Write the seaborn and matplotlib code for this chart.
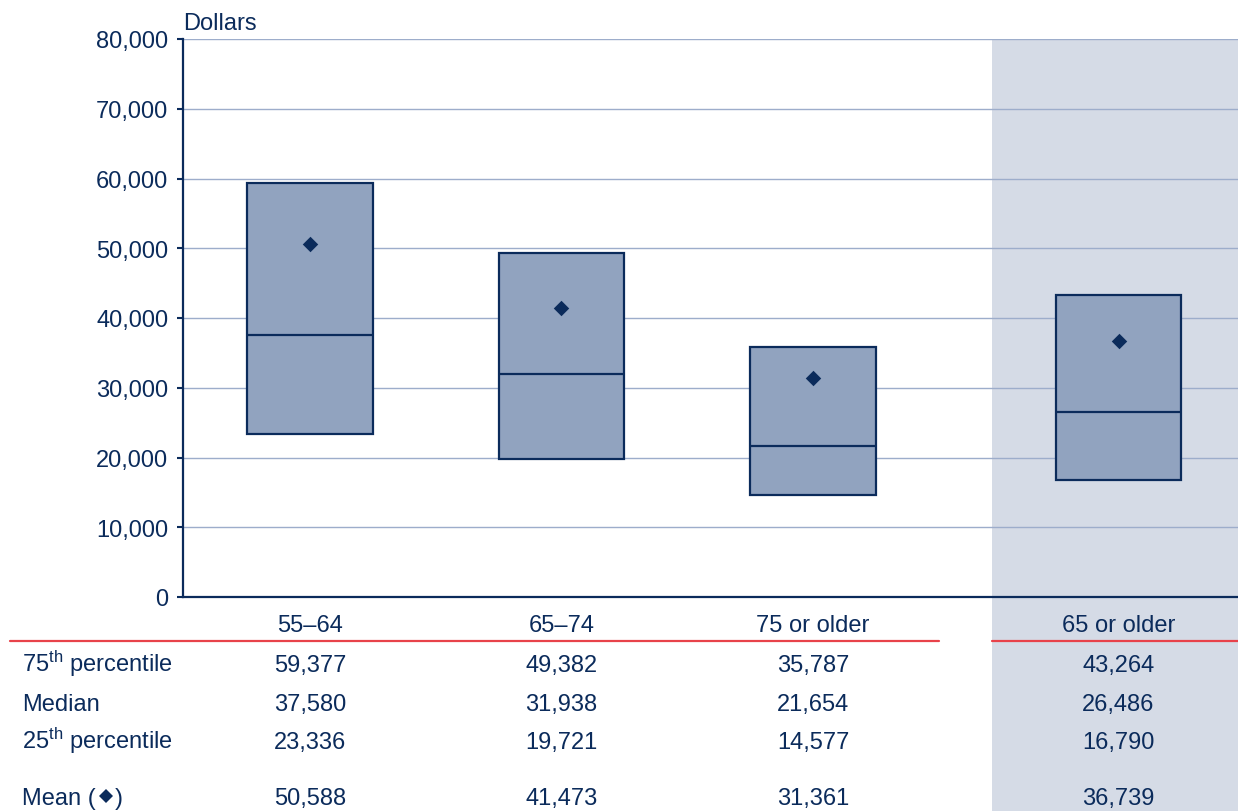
import matplotlib
matplotlib.use("Agg")
import matplotlib.pyplot as plt
from matplotlib.patches import Rectangle
from matplotlib.lines import Line2D
from matplotlib.transforms import blended_transform_factory
import seaborn as sns


groups = ["55\u201364", "65\u201374", "75 or older", "65 or older"]
p75 = [59377, 49382, 35787, 43264]
median = [37580, 31938, 21654, 26486]
p25 = [23336, 19721, 14577, 16790]
mean = [50588, 41473, 31361, 36739]

row_labels = ["75$^{\\mathrm{th}}$ percentile", "Median",
              "25$^{\\mathrm{th}}$ percentile", "Mean ("]

NAVY = "#0B2B5B"
BOX = "#91A3BF"
GRID = "#9DADCB"
SHADE = "#D5DBE6"
RED = "#E8424A"

W, H = 1238, 812


def fx(x):
    return x / W


def fy(y):
    return 1 - y / H


sns.set_theme(style="white")
plt.rcParams["font.family"] = ["Liberation Sans", "DejaVu Sans"]
plt.rcParams["mathtext.fontset"] = "custom"
plt.rcParams["mathtext.rm"] = "Liberation Sans"
plt.rcParams["mathtext.it"] = "Liberation Sans:italic"
plt.rcParams["mathtext.bf"] = "Liberation Sans:bold"

fig = plt.figure(figsize=(W / 100, H / 100), dpi=100)
fig.patch.set_facecolor("white")

# shaded "65 or older" column, runs down through the table
fig.add_artist(Rectangle((fx(992), 0), fx(W - 992), fy(40), transform=fig.transFigure,
                         facecolor=SHADE, edgecolor="none", zorder=-1))

ax = fig.add_axes([fx(183), fy(598), fx(W - 183), (598 - 40) / H])
ax.set_facecolor("none")

positions = [0, 1, 2, 3.215]
stats = [
    {"q1": lo, "med": md, "q3": hi, "whislo": lo, "whishi": hi, "fliers": [], "label": g}
    for g, lo, md, hi in zip(groups, p25, median, p75)
]
ax.bxp(stats, positions=positions, widths=0.5, patch_artist=True, showcaps=False,
       showfliers=False,
       boxprops=dict(facecolor=BOX, edgecolor=NAVY, linewidth=1.6),
       medianprops=dict(color=NAVY, linewidth=1.6),
       whiskerprops=dict(linewidth=0), zorder=3)
sns.scatterplot(x=positions, y=mean, marker="D", s=62, color=NAVY, linewidth=0,
                ax=ax, zorder=4)

ax.set_xlim(-0.505, 3.69)
ax.set_ylim(0, 80000)
ax.set_yticks(range(0, 80001, 10000))
ax.set_yticklabels([f"{v:,}" for v in range(0, 80001, 10000)])
ax.set_xticks([])
ax.yaxis.grid(True, color=GRID, linewidth=1.0)
ax.set_axisbelow(True)
ax.tick_params(axis="y", length=4.5, width=1.5, color=NAVY, pad=6,
               labelsize=17, labelcolor=NAVY, left=True)
for side in ["top", "right"]:
    ax.spines[side].set_visible(False)
for side in ["left", "bottom"]:
    ax.spines[side].set_color(NAVY)
    ax.spines[side].set_linewidth(1.6)
    ax.spines[side].set_zorder(5)

fig.text(fx(183), fy(30), "Dollars", fontsize=17, color=NAVY, ha="left", va="baseline")

# red rules under the category row
fig.add_artist(Line2D([fx(10), fx(939)], [fy(642), fy(642)], color=RED, linewidth=1.6))
fig.add_artist(Line2D([fx(992), fx(W)], [fy(642), fy(642)], color=RED, linewidth=1.6))

trans = blended_transform_factory(ax.transData, fig.transFigure)
for x, g in zip(positions, groups):
    ax.text(x, fy(632), g, transform=trans, ha="center", va="baseline",
            fontsize=17, color=NAVY, clip_on=False)

row_base = [672, 711, 749, 805]
rows = [p75, median, p25, mean]
label_texts = []
for base, lab, vals in zip(row_base, row_labels, rows):
    label_texts.append(fig.text(fx(22), fy(base), lab, fontsize=17, color=NAVY,
                                ha="left", va="baseline"))
    for x, v in zip(positions, vals):
        ax.text(x, fy(base), f"{v:,}", transform=trans, ha="center", va="baseline",
                fontsize=17, color=NAVY, clip_on=False)

# small diamond + closing paren after "Mean ("
fig.canvas.draw()
ext = label_texts[-1].get_window_extent()
dx = ext.x1 + 10
fig.add_artist(Line2D([fx(dx)], [fy(797)], marker="D", markersize=7.6, color=NAVY,
                      markeredgewidth=0, linestyle="none"))
fig.text(fx(dx + 9), fy(805), ")", fontsize=17, color=NAVY, ha="left", va="baseline")

fig.savefig("out.png", dpi=100)
